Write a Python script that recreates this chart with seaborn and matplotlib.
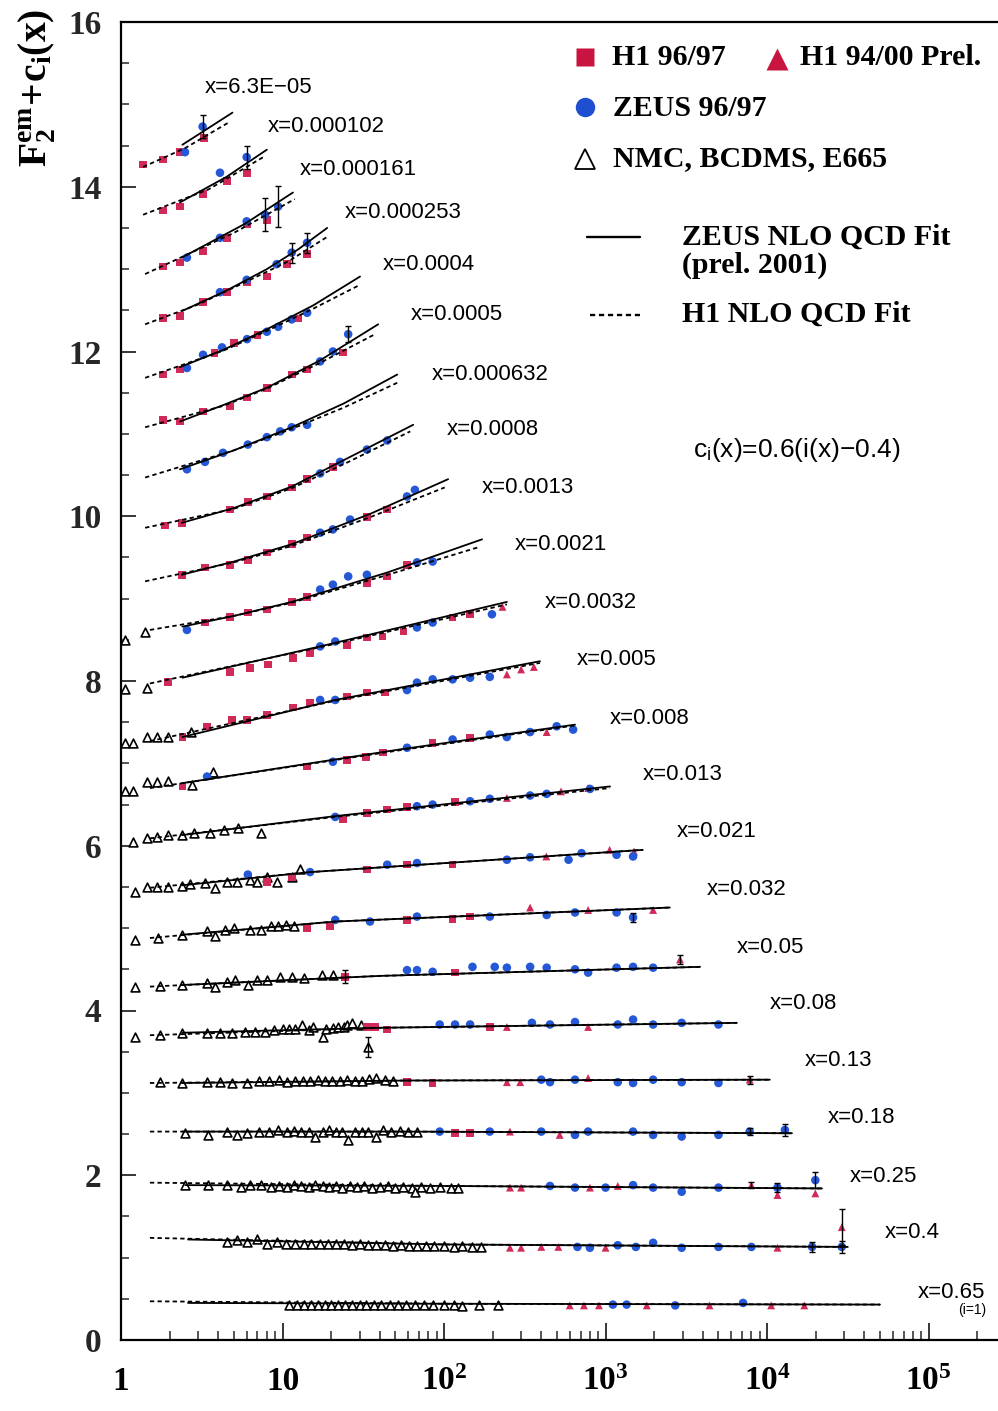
import numpy as np
import pandas as pd
import matplotlib
matplotlib.use("Agg")
import matplotlib.pyplot as plt
import matplotlib.transforms as mtransforms
from matplotlib.lines import Line2D
from matplotlib.ticker import FixedLocator, LogLocator, NullFormatter, MultipleLocator
import seaborn as sns

sns.set_theme(style="white")
plt.rcParams['font.family'] = ['Liberation Serif', 'DejaVu Serif']
plt.rcParams['mathtext.fontset'] = 'custom'
plt.rcParams['mathtext.rm'] = 'Liberation Serif'
plt.rcParams['mathtext.bf'] = 'Liberation Serif:bold'
plt.rcParams['mathtext.it'] = 'Liberation Serif:italic'

# ---------------- data ----------------
# x bins, i = 1 (x=0.65) ... 23 (x=6.3E-05); plotted value = F2 + c_i(x)
X_LABELS = ["0.65", "0.4", "0.25", "0.18", "0.13", "0.08", "0.05", "0.032", "0.021",
            "0.013", "0.008", "0.005", "0.0032", "0.0021", "0.0013", "0.0008",
            "0.000632", "0.0005", "0.0004", "0.000253", "0.000161", "0.000102", "6.3E-05"]

ZEUS_FIT = {
    "6.3E-05": ([2.4, 3.4, 4.9], [14.51, 14.70, 14.90]),
    "0.000102": ([2.32, 4.5, 8.0], [13.81, 14.12, 14.45]),
    "0.000161": ([2.38, 5.85, 11.6], [13.14, 13.55, 13.93]),
    "0.000253": ([2.38, 4.5, 8.0, 12.5, 18.9], [12.49, 12.74, 13.00, 13.24, 13.50]),
    "0.0004": ([2.32, 4.3, 8.0, 15.5, 30.2], [11.81, 12.02, 12.27, 12.56, 12.91]),
    "0.0005": ([2.32, 4.3, 8.0, 17.0, 39.1], [11.15, 11.35, 11.56, 11.89, 12.33]),
    "0.000632": ([2.32, 5.0, 11.4, 24.0, 51.3], [10.57, 10.80, 11.08, 11.37, 11.72]),
    "0.0008": ([2.38, 5.0, 11.4, 25.0, 64.4], [9.92, 10.10, 10.36, 10.70, 11.11]),
    "0.0013": ([2.38, 5.0, 11.4, 35.0, 106], [9.29, 9.45, 9.66, 10.03, 10.45]),
    "0.0021": ([2.4, 5.0, 11.4, 45.0, 172], [8.66, 8.79, 8.96, 9.32, 9.72]),
    "0.0032": ([2.4, 17.1, 245], [8.04, 8.42, 8.96]),
    "0.005": ([2.4, 21.2, 393], [7.32, 7.77, 8.24]),
    "0.008": ([2.4, 53.5, 647], [6.76, 7.17, 7.47]),
    "0.013": ([2.4, 21.2, 1066], [6.13, 6.36, 6.72]),
    "0.021": ([2.4, 14.8, 1700], [5.52, 5.68, 5.95]),
    "0.032": ([2.4, 21.2, 2500], [4.92, 5.08, 5.25]),
    "0.05": ([2.4, 40, 3846], [4.31, 4.42, 4.53]),
    "0.08": ([2.4, 40, 6500], [3.73, 3.79, 3.85]),
    "0.13": ([2.4, 60, 10400], [3.12, 3.15, 3.16]),
    "0.18": ([2.4, 60, 14260], [2.53, 2.53, 2.51]),
    "0.25": ([2.5, 100, 21860], [1.88, 1.87, 1.84]),
    "0.4": ([2.6, 100, 31600], [1.22, 1.16, 1.13]),
    "0.65": ([2.6, 100, 50000], [0.45, 0.44, 0.43]),
}

H1_FIT = {
    "6.3E-05": ([1.37, 2.5, 4.73], [14.24, 14.47, 14.79]),
    "0.000102": ([1.37, 3.5, 7.6], [13.66, 13.97, 14.36]),
    "0.000161": ([1.41, 5.0, 11.9], [12.94, 13.44, 13.85]),
    "0.000253": ([1.41, 3.0, 6.0, 11.0, 19.2], [12.33, 12.57, 12.85, 13.10, 13.40]),
    "0.0004": ([1.41, 4.3, 8.0, 15.5, 30.2], [11.68, 12.01, 12.25, 12.52, 12.81]),
    "0.0005": ([1.41, 4.3, 8.0, 17.0, 37.4], [11.08, 11.34, 11.55, 11.86, 12.21]),
    "0.000632": ([1.41, 5.0, 11.4, 24.0, 51.3], [10.47, 10.80, 11.06, 11.32, 11.62]),
    "0.0008": ([1.41, 5.0, 11.4, 25.0, 61.8], [9.86, 10.09, 10.34, 10.65, 11.03]),
    "0.0013": ([1.41, 5.0, 11.4, 35.0, 101], [9.21, 9.44, 9.64, 9.99, 10.35]),
    "0.0021": ([1.51, 5.0, 11.4, 45.0, 167], [8.62, 8.79, 8.95, 9.29, 9.63]),
    "0.0032": ([1.51, 17.1, 245], [7.97, 8.41, 8.93]),
    "0.005": ([1.51, 21.2, 393], [7.27, 7.76, 8.22]),
    "0.008": ([1.51, 53.5, 647], [6.70, 7.16, 7.46]),
    "0.013": ([1.51, 21.2, 1066], [6.09, 6.35, 6.70]),
    "0.021": ([1.51, 14.8, 1700], [5.49, 5.68, 5.95]),
    "0.032": ([1.51, 21.2, 2500], [4.88, 5.08, 5.25]),
    "0.05": ([1.51, 40, 3846], [4.29, 4.42, 4.53]),
    "0.08": ([1.51, 40, 6500], [3.70, 3.79, 3.85]),
    "0.13": ([1.51, 60, 10400], [3.12, 3.15, 3.16]),
    "0.18": ([1.51, 60, 14260], [2.53, 2.53, 2.51]),
    "0.25": ([1.51, 100, 21860], [1.91, 1.87, 1.84]),
    "0.4": ([1.51, 100, 31600], [1.24, 1.16, 1.13]),
    "0.65": ([1.51, 100, 50000], [0.47, 0.44, 0.43]),
}

H1_9697 = {
    "6.3E-05": ([1.37, 1.82, 2.32, 3.26], [14.27, 14.33, 14.42, 14.59]),
    "0.000102": ([1.82, 2.32, 3.22, 4.53, 6.03], [13.71, 13.76, 13.91, 14.07, 14.17]),
    "0.000161": ([1.82, 2.32, 3.22, 4.53, 6.03, 8.0], [13.03, 13.08, 13.22, 13.38, 13.54, 13.60]),
    "0.000253": ([1.82, 2.32, 3.22, 4.53, 6.03, 8.0, 10.7, 14.2],
                 [12.41, 12.43, 12.60, 12.72, 12.84, 12.91, 13.06, 13.18]),
    "0.0004": ([1.82, 2.32, 3.8, 5.0, 7.0, 12.5], [11.72, 11.78, 11.98, 12.10, 12.20, 12.40]),
    "0.0005": ([1.82, 2.32, 3.22, 4.73, 6.03, 8.0, 11.4, 14.2, 23.6],
               [11.17, 11.15, 11.27, 11.33, 11.44, 11.56, 11.72, 11.78, 11.99]),
    "0.0008": ([1.87, 2.38, 4.73, 6.1, 8.0, 11.4, 14.2, 20.5],
               [9.89, 9.92, 10.08, 10.17, 10.24, 10.35, 10.45, 10.60]),
    "0.0013": ([2.38, 3.31, 4.73, 6.1, 8.0, 11.4, 14.2, 33.3, 44.5],
               [9.29, 9.38, 9.41, 9.47, 9.56, 9.66, 9.74, 9.99, 10.08]),
    "0.0021": ([3.31, 4.73, 6.1, 8.0, 11.4, 14.2, 33.3, 44.5, 59.0],
               [8.71, 8.78, 8.83, 8.87, 8.96, 9.02, 9.19, 9.27, 9.41]),
    "0.0032": ([1.95, 4.73, 6.28, 8.1, 11.6, 14.8, 25.0, 33.3, 41.7, 56.0, 113.0, 145.0],
               [7.99, 8.11, 8.16, 8.20, 8.28, 8.34, 8.44, 8.53, 8.54, 8.60, 8.77, 8.81]),
    "0.005": ([2.4, 3.41, 4.87, 6.03, 8.0, 11.6, 14.8, 25.0, 33.3, 43.0],
              [7.32, 7.45, 7.53, 7.53, 7.59, 7.68, 7.74, 7.81, 7.86, 7.86]),
    "0.008": ([2.4, 14.2, 25.0, 33.0, 42.0, 85.0, 145.0], [6.72, 6.96, 7.04, 7.08, 7.13, 7.25, 7.31]),
    "0.013": ([23.6, 33.3, 44.5, 59.0, 117.0], [6.32, 6.40, 6.44, 6.47, 6.53]),
    "0.021": ([8.0, 11.4, 33.3, 59.0, 113.0], [5.56, 5.62, 5.71, 5.77, 5.77]),
    "0.032": ([14.2, 19.7, 59.0, 113.0, 145.0], [5.00, 5.02, 5.10, 5.11, 5.14]),
    "0.05": ([24.4, 117.0], [4.41, 4.46]),
    "0.08": ([33.3, 37.4, 44.5, 192.0], [3.80, 3.80, 3.77, 3.80]),
    "0.13": ([59.0, 85.0], [3.13, 3.12]),
    "0.18": ([117.0, 145.0], [2.51, 2.51]),
}

H1_9400 = {
    "0.0032": ([230.0], [8.90]),
    "0.005": ([245.0, 300.0, 360.0], [8.08, 8.14, 8.17]),
    "0.008": ([432.0], [7.38]),
    "0.013": ([245.0, 530.0, 780.0], [6.58, 6.66, 6.70]),
    "0.021": ([430.0, 1060.0, 1500.0], [5.87, 5.95, 5.93]),
    "0.032": ([341.0, 780.0, 1970.0], [5.25, 5.22, 5.22]),
    "0.05": ([2890.0], [4.62]),
    "0.08": ([245.0, 780.0], [3.80, 3.80]),
    "0.13": ([245.0, 296.0, 780.0, 7800.0], [3.13, 3.13, 3.18, 3.16]),
    "0.18": ([256.0, 520.0], [2.53, 2.49]),
    "0.25": ([256.0, 300.0, 801.0, 1190.0, 8000.0, 11600.0, 19900.0],
             [1.85, 1.85, 1.85, 1.87, 1.88, 1.76, 1.78]),
    "0.4": ([256.0, 300.0, 400.0, 510.0, 1000.0, 11600.0, 29000.0],
            [1.12, 1.12, 1.13, 1.13, 1.12, 1.12, 1.37]),
    "0.65": ([600.0, 735.0, 910.0, 1800.0, 4400.0, 10600.0, 17000.0],
             [0.42, 0.42, 0.42, 0.42, 0.42, 0.42, 0.42]),
}

ZEUS_9697 = {
    "6.3E-05": ([2.49, 3.2], [14.42, 14.73]),
    "0.000102": ([4.1, 6.0], [14.17, 14.36]),
    "0.000161": ([2.56, 4.1, 6.0, 7.8, 9.4], [13.14, 13.38, 13.58, 13.66, 13.76]),
    "0.000253": ([4.1, 6.0, 9.2, 11.4, 14.2], [12.72, 12.87, 13.06, 13.20, 13.32]),
    "0.0004": ([2.56, 3.22, 4.22, 6.03, 8.0, 9.4, 11.4, 14.2],
               [11.80, 11.96, 12.05, 12.15, 12.24, 12.30, 12.39, 12.47]),
    "0.0005": ([17.1, 20.5, 25.5], [11.88, 12.00, 12.21]),
    "0.000632": ([2.56, 3.31, 4.28, 6.1, 8.0, 9.67, 11.4, 14.2],
                 [10.57, 10.66, 10.77, 10.87, 10.96, 11.03, 11.08, 11.11]),
    "0.0008": ([17.1, 22.7, 33.3, 44.5], [10.52, 10.66, 10.81, 10.92]),
    "0.0013": ([17.1, 20.5, 26.2, 59.0, 66.0], [9.80, 9.84, 9.96, 10.24, 10.32]),
    "0.0021": ([2.56, 17.1, 20.5, 25.5, 33.3, 68.0, 85.0], [8.62, 9.11, 9.17, 9.27, 9.29, 9.44, 9.45]),
    "0.0032": ([17.1, 21.2, 68.0, 85.0, 198.0], [8.42, 8.48, 8.65, 8.71, 8.81]),
    "0.005": ([17.1, 21.2, 59.0, 68.0, 85.0, 113.0, 145.0, 192.0],
              [7.77, 7.77, 7.89, 7.98, 8.02, 8.02, 8.04, 8.05]),
    "0.008": ([3.41, 20.5, 59.0, 113.0, 192.0, 245.0, 341.0, 498.0, 630.0],
              [6.84, 7.02, 7.19, 7.29, 7.35, 7.32, 7.38, 7.45, 7.41]),
    "0.013": ([21.2, 68.0, 85.0, 145.0, 192.0, 341.0, 432.0, 801.0],
              [6.35, 6.48, 6.50, 6.54, 6.57, 6.61, 6.63, 6.69]),
    "0.021": ([6.1, 14.8, 44.5, 68.0, 245.0, 341.0, 590.0, 710.0, 1170.0, 1480.0],
              [5.65, 5.68, 5.77, 5.79, 5.83, 5.86, 5.83, 5.91, 5.89, 5.87]),
    "0.032": ([21.2, 34.8, 68.0, 192.0, 432.0, 647.0, 1170.0, 1480.0],
              [5.10, 5.08, 5.14, 5.14, 5.16, 5.19, 5.19, 5.13]),
    "0.05": ([59.0, 68.0, 85.0, 150.0, 206.0, 245.0, 341.0, 432.0, 647.0, 780.0, 1170.0, 1480.0, 1970.0],
             [4.49, 4.49, 4.47, 4.53, 4.53, 4.52, 4.53, 4.52, 4.50, 4.46, 4.52, 4.53, 4.52]),
    "0.08": ([94.0, 117.0, 145.0, 350.0, 453.0, 647.0, 1190.0, 1480.0, 1970.0, 2960.0, 5000.0],
             [3.83, 3.83, 3.83, 3.85, 3.83, 3.86, 3.83, 3.89, 3.83, 3.85, 3.83]),
    "0.13": ([400.0, 453.0, 647.0, 1190.0, 1480.0, 1970.0, 2960.0, 5000.0],
             [3.16, 3.13, 3.16, 3.13, 3.12, 3.16, 3.13, 3.12]),
    "0.18": ([94.0, 192.0, 400.0, 647.0, 780.0, 1480.0, 1970.0, 2960.0, 5000.0, 7800.0, 12900.0],
             [2.53, 2.53, 2.53, 2.49, 2.53, 2.53, 2.49, 2.47, 2.49, 2.53, 2.55]),
    "0.25": ([453.0, 647.0, 1000.0, 1480.0, 1970.0, 2960.0, 5000.0, 11600.0, 19900.0],
             [1.87, 1.85, 1.85, 1.88, 1.85, 1.80, 1.85, 1.85, 1.94]),
    "0.4": ([670.0, 800.0, 1190.0, 1540.0, 1970.0, 2960.0, 5000.0, 8000.0, 19000.0, 29000.0],
            [1.13, 1.12, 1.15, 1.13, 1.18, 1.12, 1.13, 1.13, 1.13, 1.13]),
    "0.65": ([1110.0, 1350.0, 2700.0, 7100.0], [0.43, 0.43, 0.42, 0.45]),
}

FIXED_TARGET = {
    "0.0021": ([1.06, 1.41], [8.50, 8.60]),
    "0.0032": ([1.06, 1.45], [7.90, 7.92]),
    "0.005": ([1.06, 1.19, 1.45, 1.67, 1.95, 2.7], [7.25, 7.25, 7.32, 7.32, 7.32, 7.38]),
    "0.008": ([1.06, 1.19, 1.45, 1.67, 1.95, 2.75, 3.71], [6.66, 6.66, 6.77, 6.77, 6.78, 6.74, 6.89]),
    "0.013": ([1.19, 1.45, 1.67, 1.95, 2.4, 2.85, 3.55, 4.35, 5.3, 7.4],
              [6.05, 6.10, 6.11, 6.13, 6.13, 6.15, 6.15, 6.19, 6.21, 6.16]),
    "0.021": ([1.22, 1.45, 1.67, 1.95, 2.4, 2.67, 3.3, 3.8, 4.5, 5.2, 6.3, 7.0, 8.0, 9.3, 11.4, 12.8],
              [5.44, 5.50, 5.50, 5.50, 5.51, 5.53, 5.55, 5.49, 5.56, 5.56, 5.58, 5.56, 5.62, 5.56, 5.62, 5.72]),
    "0.032": ([1.22, 1.7, 2.4, 3.41, 3.82, 4.4, 5.0, 6.3, 7.4, 8.5, 9.4, 10.5, 11.8],
              [4.86, 4.88, 4.92, 4.96, 4.90, 4.98, 5.00, 4.98, 4.98, 5.02, 5.02, 5.04, 5.03]),
    "0.05": ([1.22, 1.74, 2.4, 3.41, 3.82, 4.5, 5.1, 6.1, 7.0, 8.0, 9.7, 11.4, 13.5, 17.5, 20.5],
             [4.29, 4.30, 4.31, 4.33, 4.29, 4.35, 4.37, 4.31, 4.37, 4.37, 4.41, 4.41, 4.40, 4.43, 4.43]),
    "0.08": ([1.22, 1.74, 2.4, 3.41, 4.1, 4.87, 5.85, 6.8, 7.8, 8.9, 10.0, 11.0, 12.0, 13.2, 14.5,
              15.5, 17.8, 18.5, 20.5, 22.0, 24.0, 25.0, 27.0, 30.5, 33.8],
             [3.68, 3.70, 3.73, 3.73, 3.73, 3.73, 3.74, 3.74, 3.74, 3.76, 3.78, 3.77, 3.78, 3.83, 3.76,
              3.80, 3.68, 3.78, 3.79, 3.80, 3.80, 3.83, 3.85, 3.82, 3.56]),
    "0.13": ([1.74, 2.4, 3.41, 4.1, 4.87, 6.0, 7.2, 8.3, 9.5, 10.6, 12.0, 13.3, 14.8, 16.5, 18.3,
              20.3, 22.7, 25.0, 28.0, 31.0, 34.5, 38.0, 43.0, 48.0],
             [3.13, 3.12, 3.13, 3.13, 3.12, 3.12, 3.14, 3.15, 3.16, 3.13, 3.14, 3.15, 3.14, 3.16, 3.14,
              3.15, 3.14, 3.16, 3.14, 3.15, 3.17, 3.18, 3.16, 3.14]),
    "0.18": ([2.49, 3.45, 4.5, 5.2, 6.0, 7.2, 8.3, 9.4, 10.6, 11.8, 13.0, 14.5, 16.0, 17.8, 19.5,
              21.5, 23.5, 25.5, 28.0, 31.0, 34.0, 38.0, 42.0, 47.0, 53.0, 60.0, 68.0],
             [2.51, 2.49, 2.53, 2.49, 2.51, 2.53, 2.53, 2.55, 2.53, 2.54, 2.53, 2.53, 2.47, 2.53, 2.55,
              2.53, 2.53, 2.43, 2.53, 2.52, 2.53, 2.47, 2.55, 2.53, 2.54, 2.52, 2.53]),
    "0.25": ([2.49, 3.45, 4.5, 5.5, 6.3, 7.4, 8.5, 9.5, 10.6, 11.8, 13.0, 14.5, 16.0, 17.8, 19.5,
              21.5, 23.5, 26.0, 29.0, 32.0, 36.0, 40.0, 45.0, 50.0, 56.0, 63.0, 66.0, 72.0, 82.0,
              95.0, 110.0, 122.0],
             [1.88, 1.88, 1.88, 1.86, 1.88, 1.88, 1.86, 1.87, 1.86, 1.88, 1.87, 1.86, 1.88, 1.87, 1.86,
              1.87, 1.85, 1.87, 1.86, 1.87, 1.85, 1.86, 1.87, 1.85, 1.86, 1.85, 1.80, 1.86, 1.85,
              1.86, 1.85, 1.85]),
    "0.4": ([4.5, 5.2, 6.0, 7.0, 8.0, 9.2, 10.5, 12.0, 13.5, 15.0, 17.0, 19.0, 21.5, 24.0, 27.0,
             30.0, 34.0, 38.0, 43.0, 48.0, 54.0, 61.0, 68.0, 77.0, 87.0, 100.0, 115.0, 130.0, 150.0, 170.0],
            [1.19, 1.21, 1.19, 1.23, 1.17, 1.19, 1.17, 1.17, 1.17, 1.16, 1.17, 1.16, 1.16, 1.16, 1.15,
             1.16, 1.15, 1.15, 1.15, 1.14, 1.15, 1.14, 1.14, 1.14, 1.14, 1.14, 1.13, 1.14, 1.13, 1.13]),
    "0.65": ([11.0, 12.3, 13.6, 15.0, 16.5, 18.2, 20.0, 22.0, 24.5, 27.0, 30.0, 33.0, 37.0, 41.0,
              46.0, 52.0, 58.0, 66.0, 75.0, 85.0, 100.0, 115.0, 130.0, 165.0, 215.0],
             [0.42, 0.42, 0.43, 0.42, 0.42, 0.43, 0.42, 0.42, 0.42, 0.43, 0.42, 0.42, 0.42, 0.43,
              0.42, 0.42, 0.42, 0.42, 0.43, 0.42, 0.42, 0.42, 0.41, 0.42, 0.42]),
}

# points with visible error bars
ERR_Q2 = [3.2, 6.0, 7.8, 9.4, 11.4, 14.2, 25.5, 12900, 7800, 19900, 11600, 19000, 29000, 29000,
          24.4, 2890, 33.8, 7800, 8000, 1480]
ERR_Y = [14.73, 14.36, 13.66, 13.76, 13.20, 13.32, 12.21, 2.55, 2.53, 1.94, 1.85, 1.13, 1.13, 1.37,
         4.41, 4.62, 3.56, 3.16, 1.88, 5.13]
ERR_SIZE = [0.14, 0.14, 0.20, 0.25, 0.12, 0.12, 0.10, 0.07, 0.04, 0.10, 0.05, 0.06, 0.07, 0.22,
            0.08, 0.05, 0.12, 0.05, 0.04, 0.05]

X_TICKS = [1, 10, 100, 1e3, 1e4, 1e5]
X_TICK_LABELS = ["1", "10", r"$\mathbf{10^{2}}$", r"$\mathbf{10^{3}}$", r"$\mathbf{10^{4}}$", r"$\mathbf{10^{5}}$"]
Y_TICKS = [0, 2, 4, 6, 8, 10, 12, 14, 16]

# layout: anchor of each bin label (same order as X_LABELS)
LABEL_ANCHORS = [(86100, 0.58), (53800, 1.30), (32650, 1.99), (23860, 2.70), (17180, 3.39),
                 (10440, 4.08), (6520, 4.77), (4251, 5.47), (2772, 6.17), (1707, 6.86),
                 (1066, 7.55), (666, 8.26), (422, 8.95), (275, 9.66), (172, 10.35), (104, 11.05),
                 (84.3, 11.72), (61.8, 12.45), (41.9, 13.06), (24.4, 13.69), (12.8, 14.21),
                 (8.13, 14.73), (3.31, 15.21)]

RED = "#d02a58"
BLUE = "#2458d6"


def to_long(d):
    rows = []
    for lab, (q, v) in d.items():
        for qq, vv in zip(q, v):
            rows.append((lab, qq, vv))
    return pd.DataFrame(rows, columns=["bin", "Q2", "F2c"])


# ---------------- figure ----------------
W, H = 998, 1411
fig = plt.figure(figsize=(W / 100, H / 100), dpi=100)
fig.patch.set_facecolor("white")
ax = fig.add_axes([121 / W, 1 - 1340 / H, 1 - 121 / W, (1340 - 22) / H])
ax.set_facecolor("white")
ax.set_xscale("log")
ax.set_xlim(1, 2.69e5)
ax.set_ylim(0, 16)

# data points
sns.scatterplot(data=to_long(FIXED_TARGET), x="Q2", y="F2c", marker="^", s=40, color="white",
                edgecolor="black", linewidth=1.2, ax=ax, zorder=2, legend=False)
sns.scatterplot(data=to_long(H1_9697), x="Q2", y="F2c", marker="s", s=30, color=RED,
                edgecolor="none", ax=ax, zorder=2, legend=False)
sns.scatterplot(data=to_long(H1_9400), x="Q2", y="F2c", marker="^", s=32, color=RED,
                edgecolor="none", ax=ax, zorder=2, legend=False)
sns.scatterplot(data=to_long(ZEUS_9697), x="Q2", y="F2c", marker="o", s=38, color=BLUE,
                edgecolor="none", ax=ax, zorder=2, legend=False)
ax.errorbar(ERR_Q2, ERR_Y, yerr=ERR_SIZE, fmt="none", ecolor="black", elinewidth=1.0,
            capsize=2.2, capthick=1.0, zorder=4)

# fits
sns.lineplot(data=to_long(ZEUS_FIT), x="Q2", y="F2c", units="bin", estimator=None, sort=False,
             color="black", linewidth=1.3, ax=ax, zorder=3, legend=False)
sns.lineplot(data=to_long(H1_FIT), x="Q2", y="F2c", units="bin", estimator=None, sort=False,
             color="black", linewidth=1.3, linestyle=(0, (2.4, 1.8)), ax=ax, zorder=3, legend=False)

ax.set_xlabel("")
ax.set_ylabel("")

# spines and ticks
for s in ["left", "bottom", "top"]:
    ax.spines[s].set_visible(True)
    ax.spines[s].set_linewidth(1.6)
    ax.spines[s].set_color("black")
ax.spines["right"].set_visible(False)

ax.xaxis.set_major_locator(FixedLocator(X_TICKS))
ax.xaxis.set_minor_locator(LogLocator(base=10, subs=np.arange(2, 10), numticks=30))
ax.xaxis.set_major_formatter(NullFormatter())
ax.xaxis.set_minor_formatter(NullFormatter())
ax.tick_params(axis="x", which="major", direction="in", length=12, width=1.3, bottom=True, top=False)
ax.tick_params(axis="x", which="minor", direction="in", length=6.5, width=1.1, bottom=True, top=False)

ax.set_yticks(Y_TICKS)
ax.set_yticklabels([str(t) for t in Y_TICKS], fontsize=24, fontweight="bold")
ax.yaxis.set_minor_locator(MultipleLocator(0.5))
ax.tick_params(axis="y", which="major", direction="in", length=11, width=1.3, left=True, right=False, pad=14)
ax.tick_params(axis="y", which="minor", direction="in", length=6, width=1.1, left=True, right=False)

trans = mtransforms.blended_transform_factory(ax.transData, ax.transAxes)
for q, lab in zip(X_TICKS, X_TICK_LABELS):
    ax.text(q, -0.038, lab, transform=trans, ha="center", va="baseline", fontsize=24,
            fontweight="bold", color="black")

# bin labels
for lab, (qx, yy) in zip(X_LABELS, LABEL_ANCHORS):
    ax.text(qx, yy, "x=" + lab.replace("-", "\u2212"), ha="left", va="center",
            family=["Liberation Sans", "DejaVu Sans"], fontsize=16, color="black")
ax.text(152000, 0.36, "(i=1)", ha="left", va="center", family=["Liberation Sans", "DejaVu Sans"],
        fontsize=10, color="black")
ax.text(3483, 10.81, "c$_{\\mathregular{i}}$(x)=0.6(i(x)\u22120.4)",
        ha="left", va="center", family=["Liberation Sans", "DejaVu Sans"], fontsize=19, color="black")

# y-axis title
fig.text(37 / W, 1 - 88 / H, r"$\mathbf{F_2^{em}\!+\!c_i(x)}$", rotation=90, ha="center",
         va="center", fontsize=28.5, color="black")

# legend (figure coordinates)
def fx(px):
    return px / W


def fy(py):
    return 1 - py / H


lt = fig.transFigure
fig.add_artist(Line2D([fx(585)], [fy(57)], transform=lt, marker="s", ms=13.5, color="#c8153f", mec="none", ls="none"))
fig.add_artist(Line2D([fx(777)], [fy(59)], transform=lt, marker="^", ms=16, color="#c8153f", mec="none", ls="none"))
fig.add_artist(Line2D([fx(585)], [fy(107)], transform=lt, marker="o", ms=14, color="#1f4fd0", mec="none", ls="none"))
fig.add_artist(Line2D([fx(585)], [fy(159)], transform=lt, marker="^", ms=15, mfc="white", mec="black", mew=1.3, ls="none"))
fig.add_artist(Line2D([fx(587), fx(640)], [fy(237), fy(237)], transform=lt, color="black", lw=1.7))
fig.add_artist(Line2D([fx(590), fx(640)], [fy(315), fy(315)], transform=lt, color="black", lw=1.7,
                      linestyle=(0, (2.2, 1.6))))

leg_kw = dict(fontsize=21.5, fontweight="bold", ha="left", va="baseline", color="black")
fig.text(fx(612), fy(65), "H1 96/97", **leg_kw)
fig.text(fx(800), fy(65), "H1 94/00 Prel.", **leg_kw)
fig.text(fx(613), fy(116), "ZEUS 96/97", **leg_kw)
fig.text(fx(613), fy(166), "NMC, BCDMS, E665", **leg_kw)
fig.text(fx(682), fy(245), "ZEUS NLO QCD Fit", **leg_kw)
fig.text(fx(682), fy(273), "(prel. 2001)", **leg_kw)
fig.text(fx(682), fy(322), "H1 NLO QCD Fit", **leg_kw)

fig.savefig("out.png", dpi=100, facecolor="white")
